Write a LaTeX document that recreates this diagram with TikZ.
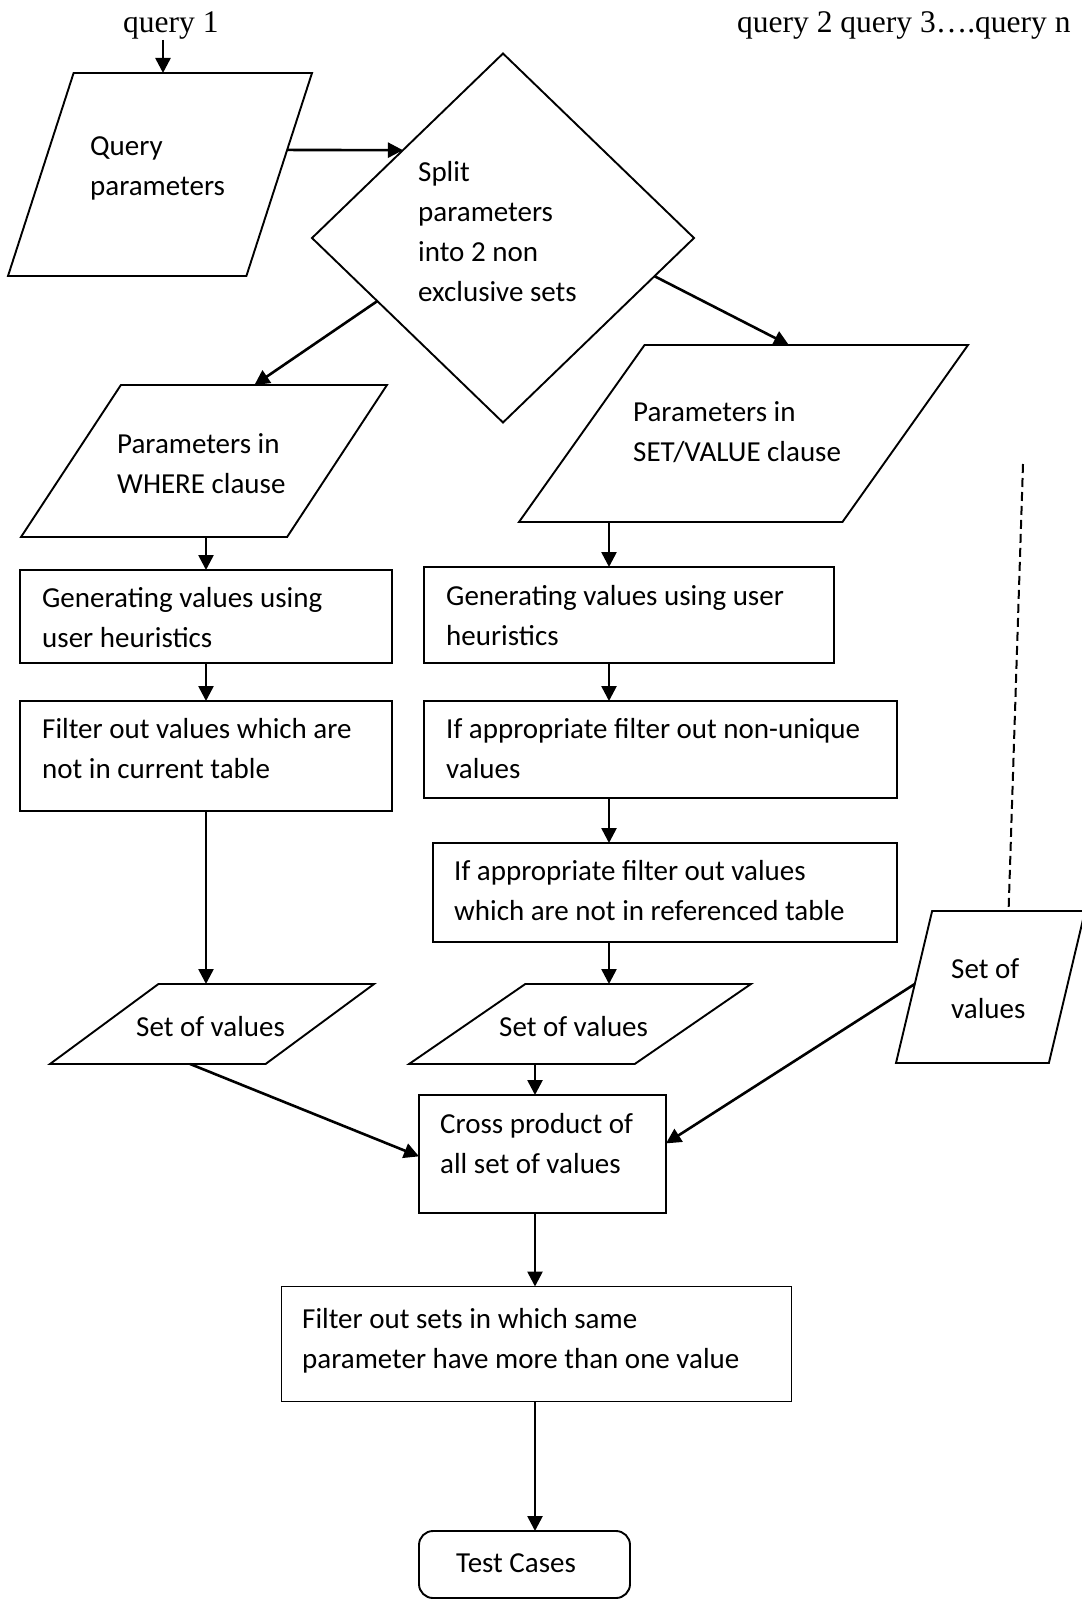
\documentclass[tikz,border=0pt]{standalone}
\usepackage{fontspec}
\setmainfont{Carlito}
\newfontfamily\qfont{Liberation Serif}
\usetikzlibrary{shapes.geometric, arrows.meta, calc}

\begin{document}
\begin{tikzpicture}[x=1pt, y=-1pt,
  shapeline/.style={draw, line width=1.9pt},
  para/.style={shapeline, trapezium, trapezium stretches=true, inner sep=1pt, outer sep=0pt},
  procbox/.style={shapeline, rectangle, inner sep=0pt, outer sep=0pt},
  txt/.style={anchor=base west, inner sep=0pt, align=left, font=\fontsize{29}{40}\selectfont},
  qtxt/.style={anchor=base west, inner sep=0pt, font=\qfont\fontsize{31.5}{36}\selectfont},
  arr/.style={line width=2.6pt, -{Triangle[length=15pt,width=15pt]}},
]
\useasboundingbox (0,0) rectangle (1081,1600);

% query labels
\node[qtxt] (q1) at (123,33) {query 1};
\node[qtxt] (qn) at (737,33) {query 2 query 3\ldots.query n};

% input and decision (text nodes are placed by the baseline of their last line)
\node[para, trapezium left angle=69.2, trapezium right angle=110.8,
      minimum width=304pt, minimum height=203pt] (qp) at (160,174.5) {};
\node[txt] (tqp) at (90,195) {Query\\parameters};

\node[diamond, shapeline, inner sep=1pt, outer sep=0pt,
      minimum width=382pt, minimum height=369pt] (dia) at (503,238) {};
\node[txt] (tdia) at (418,301) {Split\\parameters\\into 2 non\\exclusive sets};

\node[para, trapezium left angle=59, trapezium right angle=121,
      minimum width=366pt, minimum height=152pt] (where) at (204,461) {};
\node[txt] (twhere) at (117,493) {Parameters in\\WHERE clause};

\node[para, trapezium left angle=57.6, trapezium right angle=122.4,
      minimum width=449pt, minimum height=177pt] (setp) at (743.5,433.5) {};
\node[txt] (tsetp) at (633,461) {Parameters in\\SET/VALUE clause};

% left column
\node[procbox, minimum width=372pt, minimum height=93pt] (lgen) at (206,616.5) {};
\node[txt] (tlgen) at (42,647) {Generating values using\\user heuristics};
\node[procbox, minimum width=372pt, minimum height=110pt] (lfil) at (206,756) {};
\node[txt] (tlfil) at (42,778) {Filter out values which are\\not in current table};
\node[para, trapezium left angle=44.65, trapezium right angle=135.35,
      minimum width=324pt, minimum height=80pt] (lset) at (212,1024) {};
\node[txt] (tlset) at (136,1036) {Set of values};

% middle column
\node[procbox, minimum width=410pt, minimum height=96pt] (mgen) at (629,615) {};
\node[txt] (tmgen) at (446,645) {Generating values using user\\heuristics};
\node[procbox, minimum width=473pt, minimum height=97pt] (mf1) at (660.5,749.5) {};
\node[txt] (tmf1) at (446,778) {If appropriate filter out non-unique\\values};
\node[procbox, minimum width=464pt, minimum height=99pt] (mf2) at (665,892.5) {};
\node[txt] (tmf2) at (454,920) {If appropriate filter out values\\which are not in referenced table};
\node[para, trapezium left angle=43.26, trapezium right angle=136.74,
      minimum width=342pt, minimum height=80pt] (mset) at (580,1024) {};
\node[txt] (tmset) at (499,1036) {Set of values};

% right input
\node[para, trapezium left angle=72.8, trapezium right angle=107.2,
      minimum width=189pt, minimum height=152pt] (rset) at (990.5,987) {};
\node[txt] (trset) at (951,1018) {Set of\\values};

% merging and output
\node[procbox, minimum width=247pt, minimum height=118pt] (cross) at (542.5,1154) {};
\node[txt] (tcross) at (440,1173) {Cross product of\\all set of values};
\node[procbox, minimum width=510pt, minimum height=115pt] (fsets) at (536.5,1344) {};
\node[txt] (tfsets) at (302,1368) {Filter out sets in which same\\parameter have more than one value};
\node[procbox, rounded corners=14pt, minimum width=211pt, minimum height=67pt] (test) at (524.5,1564.5) {};
\node[txt] (ttest) at (456,1572) {Test Cases};

% column guides
\coordinate (mx) at (609,0);
\coordinate (cx) at (535,0);
\coordinate (dtop) at (1023,464);

% connectors
\draw[arr] (163,40) coordinate (q1a) -- (q1a |- qp.north);
\draw[arr] ($(qp.top right corner)!0.379!(qp.bottom right corner)$) -- ($(dia.west)!0.476!(dia.north)$);
\draw[arr] ($(dia.west)!0.342!(dia.south)$) -- ($(where.top left corner)!0.502!(where.top right corner)$);
\draw[arr] ($(dia.east)!0.207!(dia.south)$) -- ($(setp.top left corner)!0.446!(setp.top right corner)$);

\draw[arr] (lgen.north |- where.south) -- (lgen.north);
\draw[arr] (lgen.south) -- (lfil.north);
\draw[arr] (lfil.south) -- (lfil.south |- lset.north);

\draw[arr] (mx |- setp.south) -- (mx |- mgen.north);
\draw[arr] (mx |- mgen.south) -- (mx |- mf1.north);
\draw[arr] (mx |- mf1.south) -- (mx |- mf2.north);
\draw[arr] (mx |- mf2.south) -- (mx |- mset.north);
\draw[arr] (cx |- mset.south) -- (cx |- cross.north);

\draw[arr] ($(lset.bottom left corner)!0.65!(lset.bottom right corner)$) -- ($(cross.north west)!0.52!(cross.south west)$);
\draw[arr] ($(rset.bottom left corner)!0.52!(rset.top left corner)$) -- ($(cross.north east)!0.41!(cross.south east)$);
\draw[line width=2pt, dash pattern=on 9pt off 5pt] (dtop) -- ($(rset.top left corner)!0.5!(rset.top right corner)$);

\draw[arr] (cx |- cross.south) -- (cx |- fsets.north);
\draw[arr] (cx |- fsets.south) -- (cx |- test.north);
\end{tikzpicture}
\end{document}
